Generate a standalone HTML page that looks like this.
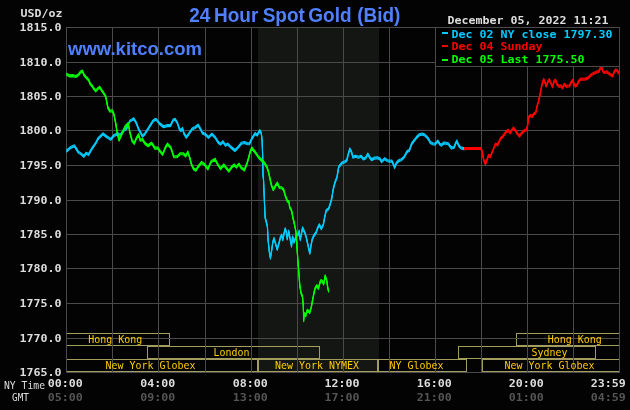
<!DOCTYPE html>
<html lang="en"><head><meta charset="utf-8"><title>24 Hour Spot Gold (Bid)</title>
<style>
html,body{margin:0;padding:0;background:#040304;}
body{width:630px;height:410px;overflow:hidden;position:relative;}
svg{display:block;position:absolute;left:0;top:0;will-change:transform;}
.b{font-family:"DejaVu Sans Mono","Liberation Mono",monospace;font-weight:bold;font-size:11.2px;}
.r{font-family:"DejaVu Sans Mono","Liberation Mono",monospace;font-weight:normal;font-size:10.6px;}
.t{font-family:"Liberation Sans",Arial,sans-serif;font-weight:bold;}
</style></head><body>
<svg width="630" height="410" viewBox="0 0 630 410">
<rect x="0" y="0" width="630" height="410" fill="#040304"/>
<rect x="258" y="28" width="121" height="344" fill="#141613"/>
<g fill="none" stroke="#a39d5e" stroke-width="1" shape-rendering="crispEdges">
<path d="M66.5 333.5H169.5V345.5H66.5Z"/>
<path d="M516.5 333.5H619.5V345.5H516.5Z"/>
<path d="M147.5 346.5H319.5V358.5H147.5Z"/>
<path d="M458.5 346.5H595.5V358.5H458.5Z"/>
<path d="M66.5 359.5H257.5V371.5H66.5Z"/>
<path d="M258.5 359.5H377.5V371.5H258.5Z"/>
<path d="M378.5 359.5H466.5V371.5H378.5Z"/>
<path d="M482.5 359.5H619.5V371.5H482.5Z"/>
</g>
<g fill="#4a4a4a" shape-rendering="crispEdges">
<rect x="112" y="27" width="1" height="346"/>
<rect x="158" y="27" width="1" height="346"/>
<rect x="205" y="27" width="1" height="346"/>
<rect x="251" y="27" width="1" height="346"/>
<rect x="297" y="27" width="1" height="346"/>
<rect x="343" y="27" width="1" height="346"/>
<rect x="389" y="27" width="1" height="346"/>
<rect x="435" y="27" width="1" height="346"/>
<rect x="481" y="27" width="1" height="346"/>
<rect x="527" y="27" width="1" height="346"/>
<rect x="573" y="27" width="1" height="346"/>
<rect x="66" y="62" width="554" height="1"/>
<rect x="66" y="96" width="554" height="1"/>
<rect x="66" y="130" width="554" height="1"/>
<rect x="66" y="165" width="554" height="1"/>
<rect x="66" y="200" width="554" height="1"/>
<rect x="66" y="234" width="554" height="1"/>
<rect x="66" y="268" width="554" height="1"/>
<rect x="66" y="303" width="554" height="1"/>
<rect x="66" y="338" width="554" height="1"/>
<rect x="66" y="27" width="1" height="346"/><rect x="619" y="27" width="1" height="346"/>
<rect x="66" y="27" width="554" height="1"/>
<rect x="66" y="372" width="554" height="1"/>
</g>
<text class="r" x="88.3" y="343" fill="#ffcc00" text-anchor="start" textLength="54" lengthAdjust="spacingAndGlyphs">Hong Kong</text>
<text class="r" x="547.7" y="343" fill="#ffcc00" text-anchor="start" textLength="54" lengthAdjust="spacingAndGlyphs">Hong Kong</text>
<text class="r" x="213.6" y="356" fill="#ffcc00" text-anchor="start" textLength="36" lengthAdjust="spacingAndGlyphs">London</text>
<text class="r" x="531.4" y="356" fill="#ffcc00" text-anchor="start" textLength="36" lengthAdjust="spacingAndGlyphs">Sydney</text>
<text class="r" x="105.5" y="369" fill="#ffcc00" text-anchor="start" textLength="90" lengthAdjust="spacingAndGlyphs">New York Globex</text>
<text class="r" x="274.9" y="369" fill="#ffcc00" text-anchor="start" textLength="84" lengthAdjust="spacingAndGlyphs">New York NYMEX</text>
<text class="r" x="389.6" y="369" fill="#ffcc00" text-anchor="start" textLength="54" lengthAdjust="spacingAndGlyphs">NY Globex</text>
<text class="r" x="504.5" y="369" fill="#ffcc00" text-anchor="start" textLength="90" lengthAdjust="spacingAndGlyphs">New York Globex</text>
<g fill="none" stroke="#00ccff" stroke-width="1.1" stroke-linejoin="round" stroke-linecap="round"><polyline points="66.7,151 69.8,148.1 74.3,145.7 75.9,148.1 78.3,152.1 81.4,154.1 83.8,156.3 86.2,153.2 88.6,154.4 91.7,148.9 95.7,143.3 98.1,138.6 102.9,133.8 106,136.2 110.8,139.4 114,135.4 117.9,133.8 120.3,135.4 123.5,130.6 126.7,128.3 129.8,121.1 133.8,118.7 136.2,122.7 138.6,129 142.5,136.2 144.9,133.8 148.9,127.5 152.9,121.1 155.2,119.5 156.3,119.5 159.5,123.5 163.5,126.7 167.5,125.6 170.6,125.6 173,120.3 175.1,119.2 177.3,122.7 179.4,129 181,130.6 182.5,128.3 184.1,133.8 186.2,137.3 188.9,133.8 192.1,129 195.2,127.5 198.1,125.1 200.5,129 202.4,133 205.6,134.6 208.4,137.3 211.9,134.1 215.1,137.3 218.3,142.5 220.6,144.1 223,141.7 225.4,145.2 227.8,144.1 231,147.3 234.9,150.5 238.1,147.3 241.3,143.3 244.4,142.5 247.6,143.7 249.5,143.7 251.9,138.6 255.1,133.5 257.1,135.1 259.8,130.6 261.4,133.8 262.2,141.7 262.7,157.6 263,175 263.5,179.5 264.3,198.6 265.1,217.6 265.8,220 267.4,226.3 268,239 269.3,251.7 270.4,258.1 271.7,250.2 272.8,242.2 274,238.3 275.6,243.8 277.2,249.4 278.8,243.8 280.4,237.5 281.7,235.1 282.8,239.8 284.4,231.9 285.2,228.7 286.3,231.9 287.2,239 288.7,231.1 289.9,237.5 291.5,246.2 292.6,236.7 293.9,242.2 295.5,238.3 296.6,234.3 297.9,235.1 299.1,231.1 300.2,239.8 301.8,231.9 302.6,227.9 304.5,231.9 306.1,236.7 307.7,243.8 309.8,253.3 310.9,246.2 312.1,239.8 313.7,235.9 316.1,232.7 317.7,227.9 319.3,224.8 321.3,228.7 323.3,224.8 324.6,217.6 326.2,210.5 328.6,208.9 330.2,204.1 331.7,198.6 333.3,189 334.9,182.7 337,177.1 338.7,166.8 340.3,165.2 341.9,162.9 344.3,162.1 346.7,160.5 348.3,154.1 349.8,148.9 351.4,151.7 353,157.3 355.4,156.2 358.6,157.3 361,156.2 363.3,158.9 365.7,158.1 367.8,154.1 369.7,157.3 371.6,159.7 374.4,158.1 377.6,157.8 380,158.9 381.6,161.6 384.8,158.6 387.1,160.5 389.5,161.3 391.9,161 393.5,164.4 394.6,167.6 396.3,163.2 399,160.5 401.4,159.7 404.3,156.8 407,151.7 409.4,150.2 411.7,143.8 414.1,140.6 416.5,137.5 418.9,135.1 422.1,134 424.8,135.1 427.1,137.3 428.7,139.4 430.3,142.5 432.7,143.7 435.1,144.1 437.8,141 439.8,144.1 441.4,145.2 443.8,143 446.2,143.3 448.6,144.1 450.2,146.5 451.7,148.1 454.1,147.3 455.7,143.3 456.8,141 458.4,144.9 460.5,147.8 463.7,148.6 465,148.6" transform="translate(0,-1)"/><polyline points="66.7,151 69.8,148.1 74.3,145.7 75.9,148.1 78.3,152.1 81.4,154.1 83.8,156.3 86.2,153.2 88.6,154.4 91.7,148.9 95.7,143.3 98.1,138.6 102.9,133.8 106,136.2 110.8,139.4 114,135.4 117.9,133.8 120.3,135.4 123.5,130.6 126.7,128.3 129.8,121.1 133.8,118.7 136.2,122.7 138.6,129 142.5,136.2 144.9,133.8 148.9,127.5 152.9,121.1 155.2,119.5 156.3,119.5 159.5,123.5 163.5,126.7 167.5,125.6 170.6,125.6 173,120.3 175.1,119.2 177.3,122.7 179.4,129 181,130.6 182.5,128.3 184.1,133.8 186.2,137.3 188.9,133.8 192.1,129 195.2,127.5 198.1,125.1 200.5,129 202.4,133 205.6,134.6 208.4,137.3 211.9,134.1 215.1,137.3 218.3,142.5 220.6,144.1 223,141.7 225.4,145.2 227.8,144.1 231,147.3 234.9,150.5 238.1,147.3 241.3,143.3 244.4,142.5 247.6,143.7 249.5,143.7 251.9,138.6 255.1,133.5 257.1,135.1 259.8,130.6 261.4,133.8 262.2,141.7 262.7,157.6 263,175 263.5,179.5 264.3,198.6 265.1,217.6 265.8,220 267.4,226.3 268,239 269.3,251.7 270.4,258.1 271.7,250.2 272.8,242.2 274,238.3 275.6,243.8 277.2,249.4 278.8,243.8 280.4,237.5 281.7,235.1 282.8,239.8 284.4,231.9 285.2,228.7 286.3,231.9 287.2,239 288.7,231.1 289.9,237.5 291.5,246.2 292.6,236.7 293.9,242.2 295.5,238.3 296.6,234.3 297.9,235.1 299.1,231.1 300.2,239.8 301.8,231.9 302.6,227.9 304.5,231.9 306.1,236.7 307.7,243.8 309.8,253.3 310.9,246.2 312.1,239.8 313.7,235.9 316.1,232.7 317.7,227.9 319.3,224.8 321.3,228.7 323.3,224.8 324.6,217.6 326.2,210.5 328.6,208.9 330.2,204.1 331.7,198.6 333.3,189 334.9,182.7 337,177.1 338.7,166.8 340.3,165.2 341.9,162.9 344.3,162.1 346.7,160.5 348.3,154.1 349.8,148.9 351.4,151.7 353,157.3 355.4,156.2 358.6,157.3 361,156.2 363.3,158.9 365.7,158.1 367.8,154.1 369.7,157.3 371.6,159.7 374.4,158.1 377.6,157.8 380,158.9 381.6,161.6 384.8,158.6 387.1,160.5 389.5,161.3 391.9,161 393.5,164.4 394.6,167.6 396.3,163.2 399,160.5 401.4,159.7 404.3,156.8 407,151.7 409.4,150.2 411.7,143.8 414.1,140.6 416.5,137.5 418.9,135.1 422.1,134 424.8,135.1 427.1,137.3 428.7,139.4 430.3,142.5 432.7,143.7 435.1,144.1 437.8,141 439.8,144.1 441.4,145.2 443.8,143 446.2,143.3 448.6,144.1 450.2,146.5 451.7,148.1 454.1,147.3 455.7,143.3 456.8,141 458.4,144.9 460.5,147.8 463.7,148.6 465,148.6"/><polyline points="66.7,151 69.8,148.1 74.3,145.7 75.9,148.1 78.3,152.1 81.4,154.1 83.8,156.3 86.2,153.2 88.6,154.4 91.7,148.9 95.7,143.3 98.1,138.6 102.9,133.8 106,136.2 110.8,139.4 114,135.4 117.9,133.8 120.3,135.4 123.5,130.6 126.7,128.3 129.8,121.1 133.8,118.7 136.2,122.7 138.6,129 142.5,136.2 144.9,133.8 148.9,127.5 152.9,121.1 155.2,119.5 156.3,119.5 159.5,123.5 163.5,126.7 167.5,125.6 170.6,125.6 173,120.3 175.1,119.2 177.3,122.7 179.4,129 181,130.6 182.5,128.3 184.1,133.8 186.2,137.3 188.9,133.8 192.1,129 195.2,127.5 198.1,125.1 200.5,129 202.4,133 205.6,134.6 208.4,137.3 211.9,134.1 215.1,137.3 218.3,142.5 220.6,144.1 223,141.7 225.4,145.2 227.8,144.1 231,147.3 234.9,150.5 238.1,147.3 241.3,143.3 244.4,142.5 247.6,143.7 249.5,143.7 251.9,138.6 255.1,133.5 257.1,135.1 259.8,130.6 261.4,133.8 262.2,141.7 262.7,157.6 263,175 263.5,179.5 264.3,198.6 265.1,217.6 265.8,220 267.4,226.3 268,239 269.3,251.7 270.4,258.1 271.7,250.2 272.8,242.2 274,238.3 275.6,243.8 277.2,249.4 278.8,243.8 280.4,237.5 281.7,235.1 282.8,239.8 284.4,231.9 285.2,228.7 286.3,231.9 287.2,239 288.7,231.1 289.9,237.5 291.5,246.2 292.6,236.7 293.9,242.2 295.5,238.3 296.6,234.3 297.9,235.1 299.1,231.1 300.2,239.8 301.8,231.9 302.6,227.9 304.5,231.9 306.1,236.7 307.7,243.8 309.8,253.3 310.9,246.2 312.1,239.8 313.7,235.9 316.1,232.7 317.7,227.9 319.3,224.8 321.3,228.7 323.3,224.8 324.6,217.6 326.2,210.5 328.6,208.9 330.2,204.1 331.7,198.6 333.3,189 334.9,182.7 337,177.1 338.7,166.8 340.3,165.2 341.9,162.9 344.3,162.1 346.7,160.5 348.3,154.1 349.8,148.9 351.4,151.7 353,157.3 355.4,156.2 358.6,157.3 361,156.2 363.3,158.9 365.7,158.1 367.8,154.1 369.7,157.3 371.6,159.7 374.4,158.1 377.6,157.8 380,158.9 381.6,161.6 384.8,158.6 387.1,160.5 389.5,161.3 391.9,161 393.5,164.4 394.6,167.6 396.3,163.2 399,160.5 401.4,159.7 404.3,156.8 407,151.7 409.4,150.2 411.7,143.8 414.1,140.6 416.5,137.5 418.9,135.1 422.1,134 424.8,135.1 427.1,137.3 428.7,139.4 430.3,142.5 432.7,143.7 435.1,144.1 437.8,141 439.8,144.1 441.4,145.2 443.8,143 446.2,143.3 448.6,144.1 450.2,146.5 451.7,148.1 454.1,147.3 455.7,143.3 456.8,141 458.4,144.9 460.5,147.8 463.7,148.6 465,148.6" transform="translate(0,1)"/></g>
<rect x="464" y="147" width="18" height="3" fill="#ff0000"/>
<g fill="none" stroke="#ff0000" stroke-width="1.1" stroke-linejoin="round" stroke-linecap="round"><polyline points="481,149 482.2,151.3 483.5,159.2 485.4,164 487,160 488.6,155.2 490.2,156.8 492.2,152.1 493.8,148.1 495.4,144.1 497.5,144.9 499.4,141 501,137.8 502.5,137 504.1,134.6 506.5,131.4 508.1,130.3 510.2,133 512.1,129.8 513.4,128 515.6,130.6 517.6,134 519.5,136.1 521.9,132.9 524.3,130.6 526.7,129.8 527.8,124.2 528.7,117.1 530.6,115.5 532.2,116.6 533.8,113.9 535.7,112.8 537,106.7 538.6,101.2 539.8,95.6 541,89.3 542.2,83.7 543.7,79.4 544.9,82.1 546.2,86.1 547.8,82.1 549.2,79.4 550.8,82.9 552.5,86.9 554.1,81.3 555.6,80.1 557.1,84.5 559.2,86.4 560.8,85.8 562.4,88 564.3,84.2 566.3,86.4 569.5,85.8 571.1,82.6 572.5,80.4 574,83.7 575.4,86.1 577.1,84.8 578.7,81.3 580.6,79 584,79.3 587.5,78.4 590.6,75.4 592.5,73.9 595.7,72.6 598.9,71.3 600.5,68 601.8,67.8 603.1,71.6 604.6,72.6 606.5,71.8 608.4,73.1 610.7,74.8 612.5,76 614.1,72.2 615.4,70.1 617,70.3 618.6,72.9" transform="translate(0,-1)"/><polyline points="481,149 482.2,151.3 483.5,159.2 485.4,164 487,160 488.6,155.2 490.2,156.8 492.2,152.1 493.8,148.1 495.4,144.1 497.5,144.9 499.4,141 501,137.8 502.5,137 504.1,134.6 506.5,131.4 508.1,130.3 510.2,133 512.1,129.8 513.4,128 515.6,130.6 517.6,134 519.5,136.1 521.9,132.9 524.3,130.6 526.7,129.8 527.8,124.2 528.7,117.1 530.6,115.5 532.2,116.6 533.8,113.9 535.7,112.8 537,106.7 538.6,101.2 539.8,95.6 541,89.3 542.2,83.7 543.7,79.4 544.9,82.1 546.2,86.1 547.8,82.1 549.2,79.4 550.8,82.9 552.5,86.9 554.1,81.3 555.6,80.1 557.1,84.5 559.2,86.4 560.8,85.8 562.4,88 564.3,84.2 566.3,86.4 569.5,85.8 571.1,82.6 572.5,80.4 574,83.7 575.4,86.1 577.1,84.8 578.7,81.3 580.6,79 584,79.3 587.5,78.4 590.6,75.4 592.5,73.9 595.7,72.6 598.9,71.3 600.5,68 601.8,67.8 603.1,71.6 604.6,72.6 606.5,71.8 608.4,73.1 610.7,74.8 612.5,76 614.1,72.2 615.4,70.1 617,70.3 618.6,72.9"/><polyline points="481,149 482.2,151.3 483.5,159.2 485.4,164 487,160 488.6,155.2 490.2,156.8 492.2,152.1 493.8,148.1 495.4,144.1 497.5,144.9 499.4,141 501,137.8 502.5,137 504.1,134.6 506.5,131.4 508.1,130.3 510.2,133 512.1,129.8 513.4,128 515.6,130.6 517.6,134 519.5,136.1 521.9,132.9 524.3,130.6 526.7,129.8 527.8,124.2 528.7,117.1 530.6,115.5 532.2,116.6 533.8,113.9 535.7,112.8 537,106.7 538.6,101.2 539.8,95.6 541,89.3 542.2,83.7 543.7,79.4 544.9,82.1 546.2,86.1 547.8,82.1 549.2,79.4 550.8,82.9 552.5,86.9 554.1,81.3 555.6,80.1 557.1,84.5 559.2,86.4 560.8,85.8 562.4,88 564.3,84.2 566.3,86.4 569.5,85.8 571.1,82.6 572.5,80.4 574,83.7 575.4,86.1 577.1,84.8 578.7,81.3 580.6,79 584,79.3 587.5,78.4 590.6,75.4 592.5,73.9 595.7,72.6 598.9,71.3 600.5,68 601.8,67.8 603.1,71.6 604.6,72.6 606.5,71.8 608.4,73.1 610.7,74.8 612.5,76 614.1,72.2 615.4,70.1 617,70.3 618.6,72.9" transform="translate(0,1)"/></g>
<g fill="none" stroke="#00ff00" stroke-width="1.1" stroke-linejoin="round" stroke-linecap="round"><polyline points="66.7,74.3 69.5,75.9 72.7,75.6 75.9,76.5 78.7,74.6 80.6,71.9 82.5,71.1 84.1,75.1 86.2,77.5 88.6,79.8 90.2,83.8 91.7,85.4 93.3,87.8 95.7,91 97.8,88.6 99.7,87.3 101.6,90.2 103.7,93.3 105.7,96.5 106.8,102.1 107.9,107.6 110,111.1 112.4,110.8 114,114.8 115.6,122.7 117.1,132.2 119,140.2 121.9,133.8 125.1,126.7 128.3,123.5 129.8,132.2 132.2,141 134.3,143.3 136.2,138.6 138.6,134.6 140.2,140.2 142.5,139.4 144.9,143.3 148.1,145.7 151.3,143.3 152.4,144.1 154.8,148.1 157.9,148.1 160.3,151.6 162.7,154.4 165.1,148.1 167.5,144.1 170.6,147.3 172.2,151.6 173.8,156.8 177,156.8 180.2,153.7 183.3,153.7 185.7,156 187.8,152.1 189.7,157.6 191.6,164.8 193.7,169 196,170.3 198.4,166.3 201.6,162.4 204.8,164.8 207.9,169 211.1,161.6 215.1,159.2 217.5,164 220.6,168.7 223.8,164.8 226.2,167.9 228.9,171.1 231.7,167.1 234.1,164.8 236.5,167.1 238.9,164 241.3,167.9 244.4,170 246.8,164 248.7,157.6 250.3,151.3 251.9,148.1 255.1,152.1 258.3,156.8 261.4,160 264.6,163.2 267,167.1 268.5,172 269.8,177.9 271.4,185.1 273.3,189.8 275.4,185.9 277.3,183 279.4,187.5 281.7,187.8 283.7,189.8 285.2,195.4 287.3,201 288.9,201.7 289.7,207.3 291.6,210.5 292.9,217.6 294.4,224 296,232 297.1,248.6 297.9,261.3 298.9,272.9 299.8,285.6 301,292.8 302.5,296.7 303.3,306.3 303.7,320.6 304.1,313.4 305.7,315.8 307.3,310.2 309.7,312.6 311.3,307.1 312.5,300.7 313.7,294.4 314.9,288.8 316.8,285.6 318.4,288.5 320.5,280.9 322.1,280.9 323.7,284 325.2,275.8 326.8,280.9 327.9,288.8 328.7,291.2" transform="translate(0,-1)"/><polyline points="66.7,74.3 69.5,75.9 72.7,75.6 75.9,76.5 78.7,74.6 80.6,71.9 82.5,71.1 84.1,75.1 86.2,77.5 88.6,79.8 90.2,83.8 91.7,85.4 93.3,87.8 95.7,91 97.8,88.6 99.7,87.3 101.6,90.2 103.7,93.3 105.7,96.5 106.8,102.1 107.9,107.6 110,111.1 112.4,110.8 114,114.8 115.6,122.7 117.1,132.2 119,140.2 121.9,133.8 125.1,126.7 128.3,123.5 129.8,132.2 132.2,141 134.3,143.3 136.2,138.6 138.6,134.6 140.2,140.2 142.5,139.4 144.9,143.3 148.1,145.7 151.3,143.3 152.4,144.1 154.8,148.1 157.9,148.1 160.3,151.6 162.7,154.4 165.1,148.1 167.5,144.1 170.6,147.3 172.2,151.6 173.8,156.8 177,156.8 180.2,153.7 183.3,153.7 185.7,156 187.8,152.1 189.7,157.6 191.6,164.8 193.7,169 196,170.3 198.4,166.3 201.6,162.4 204.8,164.8 207.9,169 211.1,161.6 215.1,159.2 217.5,164 220.6,168.7 223.8,164.8 226.2,167.9 228.9,171.1 231.7,167.1 234.1,164.8 236.5,167.1 238.9,164 241.3,167.9 244.4,170 246.8,164 248.7,157.6 250.3,151.3 251.9,148.1 255.1,152.1 258.3,156.8 261.4,160 264.6,163.2 267,167.1 268.5,172 269.8,177.9 271.4,185.1 273.3,189.8 275.4,185.9 277.3,183 279.4,187.5 281.7,187.8 283.7,189.8 285.2,195.4 287.3,201 288.9,201.7 289.7,207.3 291.6,210.5 292.9,217.6 294.4,224 296,232 297.1,248.6 297.9,261.3 298.9,272.9 299.8,285.6 301,292.8 302.5,296.7 303.3,306.3 303.7,320.6 304.1,313.4 305.7,315.8 307.3,310.2 309.7,312.6 311.3,307.1 312.5,300.7 313.7,294.4 314.9,288.8 316.8,285.6 318.4,288.5 320.5,280.9 322.1,280.9 323.7,284 325.2,275.8 326.8,280.9 327.9,288.8 328.7,291.2"/><polyline points="66.7,74.3 69.5,75.9 72.7,75.6 75.9,76.5 78.7,74.6 80.6,71.9 82.5,71.1 84.1,75.1 86.2,77.5 88.6,79.8 90.2,83.8 91.7,85.4 93.3,87.8 95.7,91 97.8,88.6 99.7,87.3 101.6,90.2 103.7,93.3 105.7,96.5 106.8,102.1 107.9,107.6 110,111.1 112.4,110.8 114,114.8 115.6,122.7 117.1,132.2 119,140.2 121.9,133.8 125.1,126.7 128.3,123.5 129.8,132.2 132.2,141 134.3,143.3 136.2,138.6 138.6,134.6 140.2,140.2 142.5,139.4 144.9,143.3 148.1,145.7 151.3,143.3 152.4,144.1 154.8,148.1 157.9,148.1 160.3,151.6 162.7,154.4 165.1,148.1 167.5,144.1 170.6,147.3 172.2,151.6 173.8,156.8 177,156.8 180.2,153.7 183.3,153.7 185.7,156 187.8,152.1 189.7,157.6 191.6,164.8 193.7,169 196,170.3 198.4,166.3 201.6,162.4 204.8,164.8 207.9,169 211.1,161.6 215.1,159.2 217.5,164 220.6,168.7 223.8,164.8 226.2,167.9 228.9,171.1 231.7,167.1 234.1,164.8 236.5,167.1 238.9,164 241.3,167.9 244.4,170 246.8,164 248.7,157.6 250.3,151.3 251.9,148.1 255.1,152.1 258.3,156.8 261.4,160 264.6,163.2 267,167.1 268.5,172 269.8,177.9 271.4,185.1 273.3,189.8 275.4,185.9 277.3,183 279.4,187.5 281.7,187.8 283.7,189.8 285.2,195.4 287.3,201 288.9,201.7 289.7,207.3 291.6,210.5 292.9,217.6 294.4,224 296,232 297.1,248.6 297.9,261.3 298.9,272.9 299.8,285.6 301,292.8 302.5,296.7 303.3,306.3 303.7,320.6 304.1,313.4 305.7,315.8 307.3,310.2 309.7,312.6 311.3,307.1 312.5,300.7 313.7,294.4 314.9,288.8 316.8,285.6 318.4,288.5 320.5,280.9 322.1,280.9 323.7,284 325.2,275.8 326.8,280.9 327.9,288.8 328.7,291.2" transform="translate(0,1)"/></g>
<rect x="436" y="28" width="183" height="38" fill="#000"/>
<rect x="435" y="66" width="185" height="1" fill="#4a4a4a" shape-rendering="crispEdges"/>
<rect x="442" y="32" width="6" height="2" fill="#00ccff"/>
<text class="b" x="451.5" y="38" fill="#00ccff" text-anchor="start" textLength="161" lengthAdjust="spacingAndGlyphs">Dec 02 NY close 1797.30</text>
<rect x="442" y="45" width="6" height="2" fill="#ff0000"/>
<text class="b" x="451.5" y="50" fill="#ff0000" text-anchor="start" textLength="91" lengthAdjust="spacingAndGlyphs">Dec 04 Sunday</text>
<rect x="442" y="59" width="6" height="2" fill="#00ff00"/>
<text class="b" x="451.5" y="63" fill="#00ff00" text-anchor="start" textLength="133" lengthAdjust="spacingAndGlyphs">Dec 05 Last 1775.50</text>
<text class="b" x="447.5" y="24" fill="#dedede" text-anchor="start" textLength="161" lengthAdjust="spacingAndGlyphs">December 05, 2022 11:21</text>
<text class="b" x="20.5" y="17" fill="#dedede" text-anchor="start" textLength="42" lengthAdjust="spacingAndGlyphs">USD/oz</text>
<text class="b" x="19.5" y="31" fill="#dedede" text-anchor="start" textLength="42" lengthAdjust="spacingAndGlyphs">1815.0</text>
<text class="b" x="19.5" y="66" fill="#dedede" text-anchor="start" textLength="42" lengthAdjust="spacingAndGlyphs">1810.0</text>
<text class="b" x="19.5" y="100" fill="#dedede" text-anchor="start" textLength="42" lengthAdjust="spacingAndGlyphs">1805.0</text>
<text class="b" x="19.5" y="134" fill="#dedede" text-anchor="start" textLength="42" lengthAdjust="spacingAndGlyphs">1800.0</text>
<text class="b" x="19.5" y="169" fill="#dedede" text-anchor="start" textLength="42" lengthAdjust="spacingAndGlyphs">1795.0</text>
<text class="b" x="19.5" y="204" fill="#dedede" text-anchor="start" textLength="42" lengthAdjust="spacingAndGlyphs">1790.0</text>
<text class="b" x="19.5" y="238" fill="#dedede" text-anchor="start" textLength="42" lengthAdjust="spacingAndGlyphs">1785.0</text>
<text class="b" x="19.5" y="272" fill="#dedede" text-anchor="start" textLength="42" lengthAdjust="spacingAndGlyphs">1780.0</text>
<text class="b" x="19.5" y="307" fill="#dedede" text-anchor="start" textLength="42" lengthAdjust="spacingAndGlyphs">1775.0</text>
<text class="b" x="19.5" y="342" fill="#dedede" text-anchor="start" textLength="42" lengthAdjust="spacingAndGlyphs">1770.0</text>
<text class="b" x="19.5" y="376" fill="#dedede" text-anchor="start" textLength="42" lengthAdjust="spacingAndGlyphs">1765.0</text>
<text class="b" x="47.7" y="387" fill="#dedede" text-anchor="start" textLength="35" lengthAdjust="spacingAndGlyphs">00:00</text>
<text class="b" x="47.7" y="401" fill="#555555" text-anchor="start" textLength="35" lengthAdjust="spacingAndGlyphs">05:00</text>
<text class="b" x="140.2" y="387" fill="#dedede" text-anchor="start" textLength="35" lengthAdjust="spacingAndGlyphs">04:00</text>
<text class="b" x="140.2" y="401" fill="#555555" text-anchor="start" textLength="35" lengthAdjust="spacingAndGlyphs">09:00</text>
<text class="b" x="232.7" y="387" fill="#dedede" text-anchor="start" textLength="35" lengthAdjust="spacingAndGlyphs">08:00</text>
<text class="b" x="232.7" y="401" fill="#555555" text-anchor="start" textLength="35" lengthAdjust="spacingAndGlyphs">13:00</text>
<text class="b" x="324.6" y="387" fill="#dedede" text-anchor="start" textLength="35" lengthAdjust="spacingAndGlyphs">12:00</text>
<text class="b" x="324.6" y="401" fill="#555555" text-anchor="start" textLength="35" lengthAdjust="spacingAndGlyphs">17:00</text>
<text class="b" x="416.7" y="387" fill="#dedede" text-anchor="start" textLength="35" lengthAdjust="spacingAndGlyphs">16:00</text>
<text class="b" x="416.7" y="401" fill="#555555" text-anchor="start" textLength="35" lengthAdjust="spacingAndGlyphs">21:00</text>
<text class="b" x="508.7" y="387" fill="#dedede" text-anchor="start" textLength="35" lengthAdjust="spacingAndGlyphs">20:00</text>
<text class="b" x="508.7" y="401" fill="#555555" text-anchor="start" textLength="35" lengthAdjust="spacingAndGlyphs">01:00</text>
<text class="b" x="590.7" y="387" fill="#dedede" text-anchor="start" textLength="35" lengthAdjust="spacingAndGlyphs">23:59</text>
<text class="b" x="590.7" y="401" fill="#555555" text-anchor="start" textLength="35" lengthAdjust="spacingAndGlyphs">04:59</text>
<text class="r" x="4" y="389" fill="#dedede" text-anchor="start" textLength="41" lengthAdjust="spacingAndGlyphs">NY Time</text>
<text class="r" x="12" y="401" fill="#dedede" text-anchor="start" textLength="17" lengthAdjust="spacingAndGlyphs">GMT</text>
<text class="t" transform="translate(0,21.9) scale(1,1.06)" y="0" font-size="19" fill="#5080ff"><tspan x="189.3">24</tspan> <tspan x="214">Hour</tspan> <tspan x="262.7">Spot</tspan> <tspan x="308.3">Gold</tspan> <tspan x="357.2">(Bid)</tspan></text>
<text class="t" transform="translate(0,55) scale(1,1.035)" x="68" y="0" font-size="18.6" fill="#5080ff" textLength="134" lengthAdjust="spacingAndGlyphs">www.kitco.com</text>
</svg></body></html>
